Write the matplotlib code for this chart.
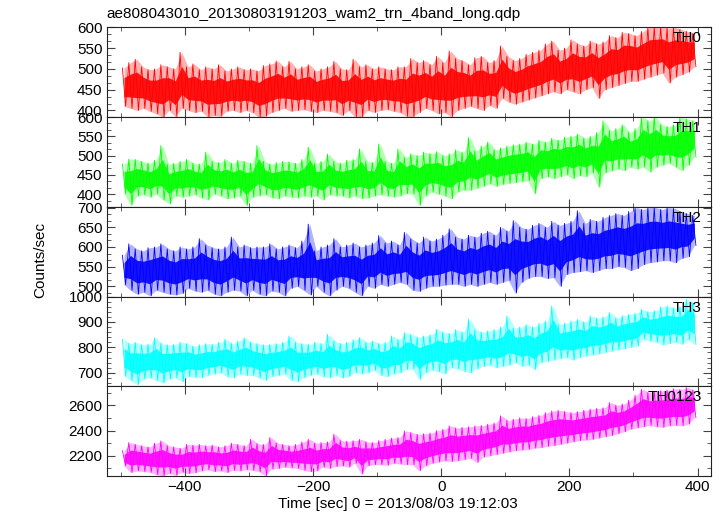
import matplotlib
matplotlib.use("Agg")
import matplotlib.pyplot as plt
from matplotlib.ticker import MultipleLocator
import numpy as np

plt.rcParams['font.family'] = ['Liberation Sans', 'DejaVu Sans']

# 10 s bins, centre times (sec from 2013/08/03 19:12:03)
t_bins = np.arange(-495, 400, 10)

# upper / lower envelope of each 10 s bin
th0_hi = [502, 515, 523, 505, 498, 500, 510, 505, 500, 540, 505, 512, 498, 505, 500,
          510, 495, 500, 505, 498, 500, 495, 508, 512, 519, 505, 518, 500, 505, 510,
          495, 500, 505, 518, 500, 498, 523, 505, 510, 500, 505, 500, 498, 505, 505,
          525, 515, 520, 510, 530, 515, 543, 525, 520, 510, 527, 530, 515, 520, 555,
          530, 520, 525, 535, 540, 545, 560, 567, 545, 550, 570, 560, 555, 567, 560,
          565, 580, 575, 588, 585, 580, 590, 600, 600, 600, 598, 600, 595, 590, 585]
th0_lo = [410, 405, 400, 405, 398, 392, 384, 400, 385, 405, 400, 395, 398, 385, 388,
          386, 398, 400, 395, 400, 395, 384, 386, 395, 400, 405, 398, 400, 402, 398,
          395, 400, 398, 395, 388, 400, 385, 384, 400, 395, 400, 402, 398, 395, 386,
          385, 395, 405, 400, 392, 395, 385, 400, 405, 410, 405, 400, 412, 405, 429,
          420, 415, 420, 425, 430, 435, 440, 445, 440, 450, 445, 440, 450, 455, 429,
          450, 455, 460, 465, 470, 470, 475, 480, 485, 490, 466, 480, 486, 492, 505]

th1_hi = [478, 491, 490, 485, 480, 488, 526, 478, 480, 485, 490, 480, 478, 509, 485,
          482, 490, 480, 488, 485, 480, 526, 485, 478, 482, 485, 484, 480, 490, 522,
          480, 485, 504, 485, 480, 488, 490, 517, 485, 482, 530, 485, 480, 517, 495,
          505, 500, 509, 505, 510, 500, 505, 515, 508, 547, 512, 525, 535, 515, 520,
          525, 528, 530, 535, 530, 540, 535, 545, 540, 548, 550, 556, 545, 550, 560,
          590, 565, 570, 580, 560, 570, 600, 590, 600, 580, 575, 580, 600, 595, 590]
th1_lo = [401, 371, 395, 398, 392, 400, 385, 375, 395, 392, 395, 398, 390, 385, 400,
          395, 388, 390, 395, 371, 392, 395, 398, 390, 388, 395, 392, 390, 395, 392,
          395, 385, 398, 395, 395, 390, 395, 388, 390, 395, 398, 395, 392, 395, 401,
          400, 371, 395, 405, 400, 395, 388, 405, 410, 410, 415, 420, 427, 420, 425,
          428, 430, 432, 435, 401, 440, 445, 440, 445, 450, 440, 448, 445, 455, 418,
          455, 460, 465, 461, 470, 465, 470, 457, 470, 475, 480, 470, 461, 475, 496]

th2_hi = [579, 608, 595, 590, 598, 600, 608, 595, 590, 600, 595, 600, 621, 605, 598,
          595, 600, 625, 600, 605, 598, 600, 600, 608, 595, 600, 605, 598, 615, 658,
          590, 600, 605, 621, 600, 605, 610, 600, 605, 610, 629, 610, 615, 605, 637,
          620, 610, 625, 615, 620, 630, 646, 625, 620, 630, 625, 635, 640, 630, 650,
          640, 667, 650, 645, 655, 660, 650, 665, 655, 660, 665, 692, 660, 670, 665,
          675, 680, 685, 680, 690, 700, 695, 700, 700, 695, 700, 698, 690, 685, 680]
th2_lo = [504, 490, 480, 485, 476, 490, 485, 480, 478, 482, 495, 488, 485, 490, 480,
          476, 485, 490, 488, 476, 490, 480, 476, 488, 485, 476, 495, 500, 490, 478,
          500, 485, 476, 490, 500, 495, 485, 476, 500, 495, 505, 500, 505, 510, 505,
          490, 487, 495, 500, 500, 503, 505, 505, 500, 505, 500, 505, 510, 505, 510,
          515, 483, 510, 520, 525, 525, 520, 522, 500, 530, 535, 537, 540, 535, 540,
          545, 545, 550, 548, 540, 545, 555, 560, 562, 565, 565, 560, 571, 575, 604]

th3_hi = [832, 815, 820, 810, 812, 838, 815, 810, 812, 820, 815, 805, 810, 815, 812,
          820, 832, 815, 825, 838, 820, 815, 810, 812, 815, 820, 845, 820, 815, 812,
          820, 815, 851, 825, 815, 820, 830, 838, 820, 825, 815, 820, 845, 830, 858,
          851, 840, 845, 850, 871, 860, 855, 870, 860, 911, 870, 860, 865, 870, 880,
          924, 875, 880, 890, 880, 895, 904, 963, 890, 895, 904, 910, 900, 924, 915,
          920, 937, 915, 925, 930, 935, 950, 940, 945, 960, 963, 955, 960, 989, 975]
th3_lo = [687, 670, 654, 675, 680, 670, 660, 675, 680, 665, 685, 682, 680, 690, 695,
          700, 685, 680, 695, 690, 690, 680, 670, 685, 690, 695, 670, 665, 680, 690,
          695, 685, 680, 690, 680, 685, 700, 695, 700, 710, 690, 685, 695, 700, 713,
          715, 674, 700, 710, 705, 695, 720, 715, 705, 700, 715, 725, 730, 720, 725,
          730, 740, 725, 730, 713, 740, 745, 750, 755, 760, 750, 760, 765, 770, 774,
          780, 785, 790, 795, 800, 805, 832, 825, 820, 810, 815, 820, 812, 830, 812]

th0123_hi = [2240, 2305, 2290, 2280, 2270, 2300, 2318, 2280, 2270, 2260, 2290, 2285, 2290, 2280, 2285,
             2270, 2280, 2300, 2290, 2280, 2331, 2295, 2290, 2345, 2300, 2290, 2280, 2290, 2310, 2331,
             2300, 2305, 2310, 2371, 2320, 2315, 2320, 2330, 2310, 2305, 2320, 2330, 2340, 2345, 2397,
             2384, 2370, 2375, 2380, 2400, 2410, 2437, 2420, 2425, 2430, 2437, 2440, 2450, 2460, 2516,
             2480, 2490, 2500, 2495, 2510, 2520, 2542, 2555, 2560, 2550, 2542, 2550, 2560, 2570, 2575,
             2580, 2621, 2600, 2610, 2640, 2680, 2726, 2700, 2710, 2715, 2720, 2730, 2725, 2740, 2720]
th0123_lo = [2120, 2068, 2080, 2075, 2070, 2050, 2042, 2060, 2045, 2070, 2060, 2065, 2080, 2090, 2075,
             2080, 2068, 2085, 2080, 2090, 2085, 2075, 2042, 2095, 2100, 2110, 2105, 2100, 2085, 2075,
             2080, 2110, 2100, 2115, 2120, 2110, 2140, 2055, 2120, 2130, 2130, 2125, 2140, 2135, 2130,
             2130, 2082, 2120, 2140, 2150, 2160, 2155, 2160, 2170, 2180, 2147, 2190, 2200, 2210, 2220,
             2230, 2240, 2245, 2250, 2260, 2265, 2275, 2280, 2290, 2300, 2310, 2320, 2325, 2330, 2340,
             2350, 2360, 2375, 2390, 2410, 2420, 2430, 2440, 2430, 2425, 2437, 2440, 2437, 2450, 2500]

band_names = ['TH0', 'TH1', 'TH2', 'TH3', 'TH0123']
band_hi = [th0_hi, th1_hi, th2_hi, th3_hi, th0123_hi]
band_lo = [th0_lo, th1_lo, th2_lo, th3_lo, th0123_lo]
colors = ['#ff0000', '#00ff00', '#0000ff', '#00ffff', '#ff00ff']
ylims = [(384, 600), (367, 600), (474, 702), (647, 1000), (2040, 2750)]
ymajor = [50, 50, 50, 100, 200]
yminor = [50/3., 50/3., 50/3., 20, 100]

fig = plt.figure(figsize=(7.24, 5.16), dpi=100)
gs = fig.add_gridspec(5, 1, left=0.1474, right=0.982, top=0.947, bottom=0.0775, hspace=0)

axes = []
for i in range(5):
    ax = fig.add_subplot(gs[i], sharex=axes[0] if axes else None)
    axes.append(ax)
    hi = np.array(band_hi[i], dtype=float)
    lo = np.array(band_lo[i], dtype=float)
    mid = (hi + lo) / 2.
    # light band (error bars), denser core, then trace zig-zagging between extremes
    ax.fill_between(t_bins, lo, hi, color=colors[i], alpha=0.3, lw=0)
    ax.fill_between(t_bins, (mid + lo) / 2., (mid + hi) / 2., color=colors[i],
                    alpha=0.9, lw=0)
    xs = np.column_stack([t_bins - 2.5, t_bins + 2.5]).ravel()
    ys = np.column_stack([hi, lo]).ravel()
    ax.plot(xs, ys, color=colors[i], lw=0.6)
    ax.set_ylim(*ylims[i])
    ax.set_xlim(-522, 421)
    ax.yaxis.set_major_locator(MultipleLocator(ymajor[i]))
    ax.yaxis.set_minor_locator(MultipleLocator(yminor[i]))
    ax.xaxis.set_major_locator(MultipleLocator(200))
    ax.xaxis.set_minor_locator(MultipleLocator(100))
    ax.tick_params(which='both', direction='in', top=True, right=True, labelsize=11,
                   color='#444444', pad=3)
    ax.tick_params(which='major', length=6)
    ax.tick_params(which='minor', length=3)
    for sp in ax.spines.values():
        sp.set_color('#222222')
    ax.text(0.985, 0.877, band_names[i], transform=ax.transAxes, ha='right',
            va='center', fontsize=11)
    if i < 4:
        ax.tick_params(labelbottom=False)

fig.text(0.1474, 0.972, 'ae808043010_20130803191203_wam2_trn_4band_long.qdp',
         ha='left', va='center', fontsize=11)
fig.text(0.055, 1 - 260/516., 'Counts/sec', rotation=90, ha='center', va='center',
         fontsize=11)
fig.text(398/724., 1 - 504/516., 'Time [sec] 0 = 2013/08/03 19:12:03',
         ha='center', va='center', fontsize=11)

fig.savefig('out.png', dpi=100)
